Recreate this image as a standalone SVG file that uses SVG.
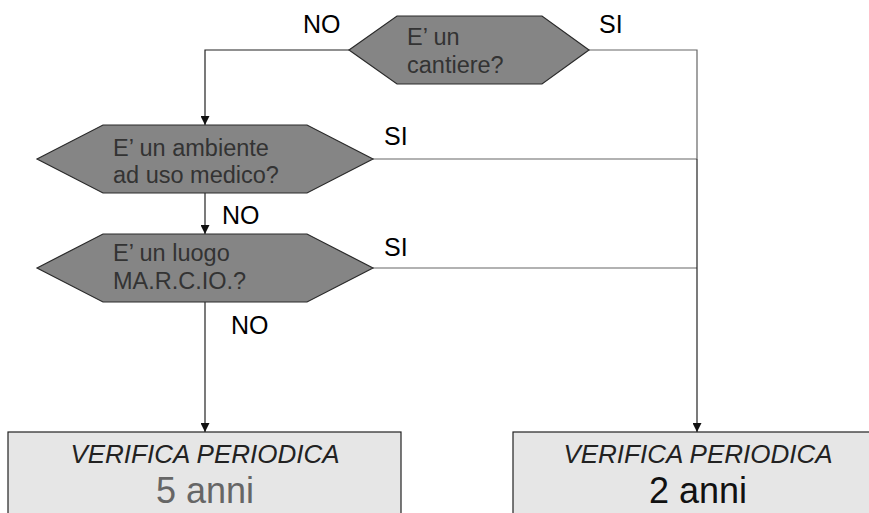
<svg xmlns="http://www.w3.org/2000/svg" width="869" height="513" viewBox="0 0 869 513">
<style>
.hex{fill:#858585;stroke:#2a2a2a;stroke-width:1.2}
.box{fill:#e6e6e6;stroke:#222;stroke-width:1.2}
.q{font-family:"Liberation Sans",Arial,sans-serif;font-size:23.5px;fill:#333}
.lbl{font-family:"Liberation Sans",Arial,sans-serif;font-size:25px;fill:#000}
.vp{font-family:"Liberation Sans",Arial,sans-serif;font-size:26px;font-style:italic;fill:#222;text-anchor:middle}
.yr{font-family:"Liberation Sans",Arial,sans-serif;font-size:36px;text-anchor:middle}
.c{fill:none;stroke:#222;stroke-width:1.2}
.cg{fill:none;stroke:#666;stroke-width:1.2}
</style>
<defs>
<marker id="arr" viewBox="0 0 10 10" refX="10" refY="5" markerWidth="9" markerHeight="9" markerUnits="userSpaceOnUse" orient="auto">
<path d="M0,0 L10,5 L0,10 Z" fill="#111"/>
</marker>
</defs>
<g id="connectors">
<path class="c" d="M349,50 H205 V125" marker-end="url(#arr)"/>
<path class="cg" d="M589,50 H697 V159"/>
<path class="cg" d="M373,159 H697"/>
<path class="cg" d="M373,268 H697"/>
<path class="c" d="M697,159 V432" marker-end="url(#arr)"/>
<path class="c" d="M205,193 V234" marker-end="url(#arr)"/>
<path class="c" d="M205,302 V432" marker-end="url(#arr)"/>
</g>
<g id="labels">
<text class="lbl" x="303" y="33">NO</text>
<text class="lbl" x="599" y="33">SI</text>
<text class="lbl" x="384" y="145">SI</text>
<text class="lbl" x="222" y="224">NO</text>
<text class="lbl" x="384" y="256">SI</text>
<text class="lbl" x="231" y="334">NO</text>
</g>
<g id="q-cantiere">
<polygon class="hex" points="349,50 397,16 542,16 589,50 542,84 397,84"/>
<text class="q" x="407" y="45">E’ un</text>
<text class="q" x="407" y="73">cantiere?</text>
</g>
<g id="q-medico">
<polygon class="hex" points="37,159 103,125 307,125 373,159 307,193 103,193"/>
<text class="q" x="113" y="156">E’ un ambiente</text>
<text class="q" x="113" y="183">ad uso medico?</text>
</g>
<g id="q-marcio">
<polygon class="hex" points="37,268 103,234 307,234 373,268 307,302 103,302"/>
<text class="q" x="113" y="261">E’ un luogo</text>
<text class="q" x="113" y="289">MA.R.C.IO.?</text>
</g>
<g id="res-5">
<rect class="box" x="8" y="432" width="393" height="100"/>
<text class="vp" x="205" y="463">VERIFICA PERIODICA</text>
<text class="yr" x="205" y="503" fill="#666">5 anni</text>
</g>
<g id="res-2">
<rect class="box" x="513" y="432" width="393" height="100"/>
<text class="vp" x="698" y="463">VERIFICA PERIODICA</text>
<text class="yr" x="698" y="503" fill="#111">2 anni</text>
</g>
</svg>
